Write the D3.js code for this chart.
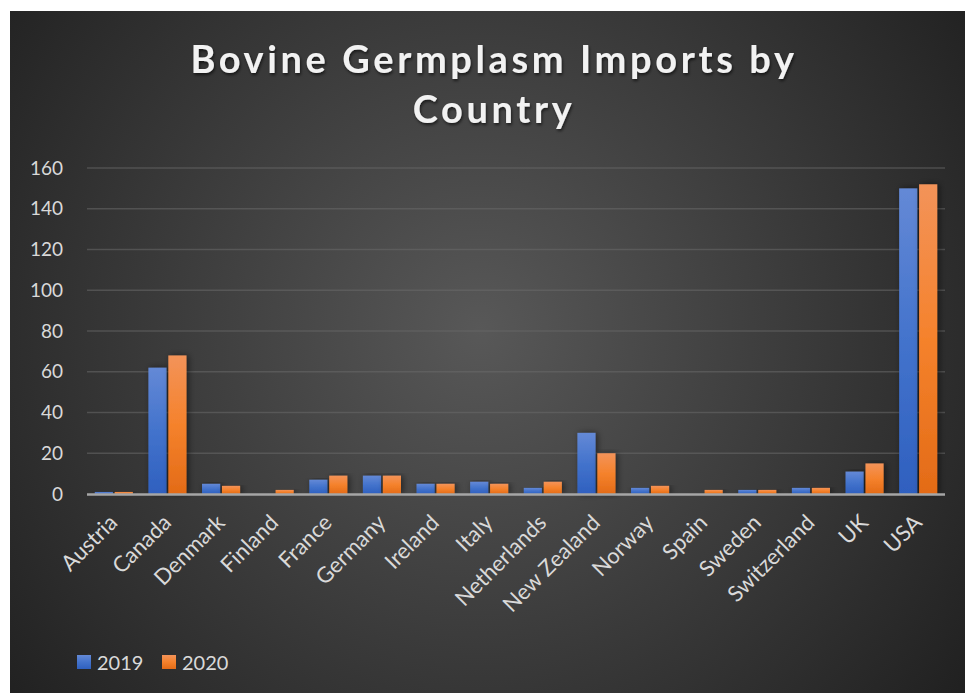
<!DOCTYPE html>
<html>
<head>
<meta charset="utf-8">
<script src="https://cdn.jsdelivr.net/npm/d3@7"></script>
<style>
  body { margin: 0; background: #fff; }
  text { font-family: Lato, "Open Sans", sans-serif; }
</style>
</head>
<body>
<svg id="chart"></svg>
<script>
const countries = ["Austria", "Canada", "Denmark", "Finland", "France", "Germany", "Ireland", "Italy",
  "Netherlands", "New Zealand", "Norway", "Spain", "Sweden", "Switzerland", "UK", "USA"];
const years = ["2019", "2020"];
const values2019 = [1, 62, 5, 0, 7, 9, 5, 6, 3, 30, 3, 0, 2, 3, 11, 150];
const values2020 = [1, 68, 4, 2, 9, 9, 5, 5, 6, 20, 4, 2, 2, 3, 15, 152];
const yTicks = [0, 20, 40, 60, 80, 100, 120, 140, 160];
const titleLines = ["Bovine Germplasm Imports by", "Country"];

const width = 965;
const height = 693;
const margin = {top: 168, right: 20, bottom: 199, left: 87};

const rows = countries.map((c, i) => ({country: c, v: [values2019[i], values2020[i]]}));

const svg = d3.select("#chart")
    .attr("width", width)
    .attr("height", height)
    .attr("viewBox", [0, 0, width, height]);

const defs = svg.append("defs");

const bg = defs.append("radialGradient")
    .attr("id", "bg")
    .attr("gradientUnits", "userSpaceOnUse")
    .attr("cx", 480).attr("cy", 330).attr("r", 620);
bg.append("stop").attr("offset", "0%").attr("stop-color", "#585858");
bg.append("stop").attr("offset", "100%").attr("stop-color", "#1f1f1f");

const barFills = [["#6489d6", "#4373cc", "#2f60bf"], ["#f39359", "#f5822c", "#e36b17"]];
barFills.forEach(([top, mid, bottom], i) => {
  const g = defs.append("linearGradient")
      .attr("id", "bar" + i)
      .attr("x1", 0).attr("y1", 0).attr("x2", 0).attr("y2", 1);
  g.append("stop").attr("offset", "0%").attr("stop-color", top);
  g.append("stop").attr("offset", "50%").attr("stop-color", mid);
  g.append("stop").attr("offset", "100%").attr("stop-color", bottom);
});

const shadow = defs.append("filter").attr("id", "shadow")
    .attr("x", "-50%").attr("y", "-10%").attr("width", "200%").attr("height", "120%");
shadow.append("feDropShadow")
    .attr("dx", 2).attr("dy", 0).attr("stdDeviation", 3)
    .attr("flood-color", "#000").attr("flood-opacity", 0.5);

const tshadow = defs.append("filter").attr("id", "tshadow");
tshadow.append("feDropShadow")
    .attr("dx", 1).attr("dy", 2).attr("stdDeviation", 1.5)
    .attr("flood-color", "#000").attr("flood-opacity", 0.6);

svg.append("rect")
    .attr("x", 10).attr("y", 11)
    .attr("width", width - 10).attr("height", height - 11)
    .attr("fill", "url(#bg)");

svg.append("g")
    .attr("filter", "url(#tshadow)")
  .selectAll("text")
  .data(titleLines)
  .join("text")
    .attr("x", 494)
    .attr("y", (d, i) => 73 + i * 50)
    .attr("text-anchor", "middle")
    .attr("fill", "#f2f2f2")
    .attr("font-size", 38)
    .attr("font-weight", "bold")
    .attr("letter-spacing", 3.6)
    .text(d => d);

const x = d3.scaleBand()
    .domain(countries)
    .range([margin.left, width - margin.right])
    .paddingInner(0.29)
    .paddingOuter(0.145);

const xs = d3.scaleBand()
    .domain(years)
    .range([0, x.bandwidth()])
    .paddingInner(0.09);

const y = d3.scaleLinear()
    .domain([0, 160])
    .range([height - margin.bottom, margin.top]);

const xAxis = g => g
    .attr("transform", `translate(0,${height - margin.bottom})`)
    .call(d3.axisBottom(x).tickSize(0))
    .call(g => g.select(".domain").remove())
    .call(g => g.selectAll(".tick text")
        .attr("fill", "#d9d9d9")
        .attr("font-size", 22)
        .attr("text-anchor", "end")
        .attr("y", 0)
        .attr("dy", 0)
        .attr("transform", "translate(5,30) rotate(-45)"));

const yAxis = g => g
    .attr("transform", `translate(${margin.left},0)`)
    .call(d3.axisLeft(y).tickValues(yTicks).tickSize(0).tickPadding(24))
    .call(g => g.select(".domain").remove())
    .call(g => g.selectAll(".tick text")
        .attr("fill", "#d9d9d9")
        .attr("font-size", 19));

svg.append("g")
  .selectAll("line")
  .data(yTicks.slice(1))
  .join("line")
    .attr("x1", margin.left)
    .attr("x2", width - margin.right)
    .attr("y1", d => y(d))
    .attr("y2", d => y(d))
    .attr("stroke", "#6a6a6a")
    .attr("stroke-opacity", 0.55)
    .attr("stroke-width", 1.5);

svg.append("g")
  .selectAll("g")
  .data(rows)
  .join("g")
    .attr("transform", d => `translate(${x(d.country)},0)`)
  .selectAll("rect")
  .data(d => d.v.map((v, i) => ({year: years[i], v, i})).filter(d => d.v > 0))
  .join("rect")
    .attr("x", d => xs(d.year))
    .attr("y", d => y(d.v))
    .attr("width", xs.bandwidth())
    .attr("height", d => y(0) - y(d.v))
    .attr("fill", d => `url(#bar${d.i})`)
    .attr("filter", "url(#shadow)");

svg.append("line")
    .attr("x1", margin.left)
    .attr("x2", width - margin.right)
    .attr("y1", y(0) + 0.5)
    .attr("y2", y(0) + 0.5)
    .attr("stroke", "#a6a6a6")
    .attr("stroke-width", 2.5);

svg.append("g").call(xAxis);
svg.append("g").call(yAxis);

const legend = svg.append("g")
    .attr("transform", "translate(77,655)")
  .selectAll("g")
  .data(years)
  .join("g")
    .attr("transform", (d, i) => `translate(${i * 85},0)`);

legend.append("rect")
    .attr("width", 14).attr("height", 14)
    .attr("fill", (d, i) => `url(#bar${i})`);

legend.append("text")
    .attr("x", 20)
    .attr("y", 15)
    .attr("fill", "#d9d9d9")
    .attr("font-size", 20)
    .text(d => d);
</script>
</body>
</html>
